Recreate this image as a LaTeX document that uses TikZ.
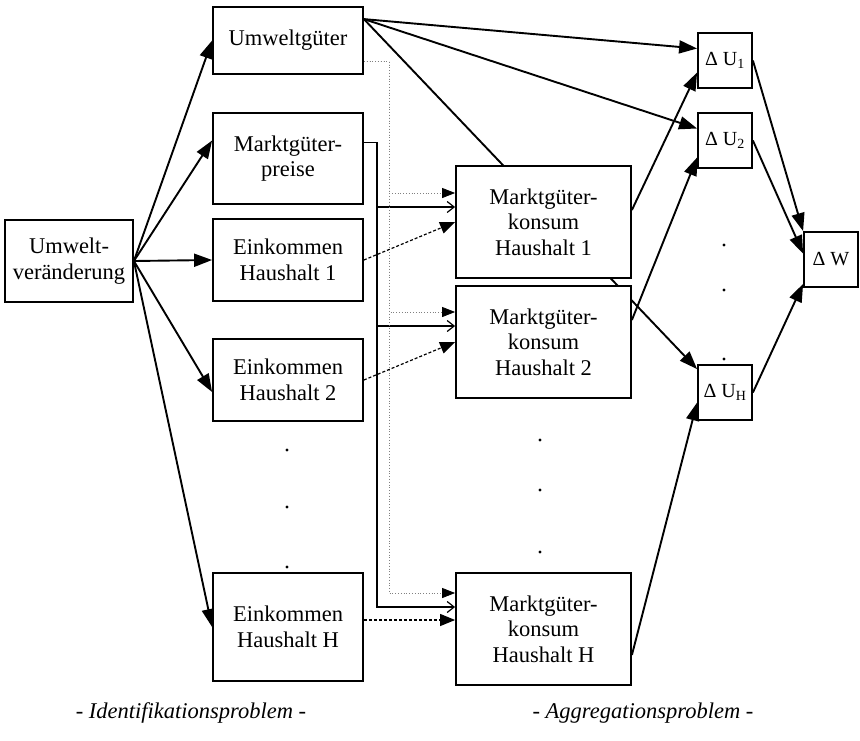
\documentclass[tikz,border=0pt]{standalone}
\usepackage{fontspec}
\setmainfont{Liberation Serif}
\usetikzlibrary{arrows.meta,backgrounds}

\begin{document}
\begin{tikzpicture}[x=1pt,y=-1pt,
  font=\fontsize{22.5}{25.5}\selectfont,
  >={Triangle[length=18pt,width=13pt]},
  box/.style={draw,line width=1.8pt,fill=white,align=center,inner sep=0pt},
  links/.style={box,minimum width=150pt},
  konsum/.style={box,minimum width=175pt,minimum height=112pt},
  nutzen/.style={box,minimum width=54pt,minimum height=55pt,font=\fontsize{20}{24}\selectfont},
  pfeil/.style={line width=1.9pt,->},
  preis/.style={line width=1.2pt,-{Straight Barb[length=7pt,width=11pt,line width=1.2pt]}},
  gut/.style={line width=0.8pt,gray,dotted,-{Triangle[length=13pt,width=10pt,color=black]}},
  eink/.style={line width=1.2pt,dash pattern=on 3pt off 2pt,-{Triangle[length=15pt,width=12pt]}}]
  \useasboundingbox (0,0) rectangle (860,740);
  \node[box,minimum width=128pt,minimum height=82pt] (umw) at (69,261) {Umwelt-\\veränderung};
  \node[links,minimum height=67pt] (ug) at (288,40.5) {Umweltgüter};
  \node[links,minimum height=91pt] (mp) at (288,158.5) {Marktgüter-\\preise};
  \node[links,minimum height=82pt] (e1) at (288,260) {Einkommen\\Haushalt 1};
  \node[links,minimum height=82pt] (e2) at (288,380) {Einkommen\\Haushalt 2};
  \node[links,minimum height=108pt] (eH) at (288,627) {Einkommen\\Haushalt H};
  \node[konsum] (k1) at (543.5,222) {Marktgüter-\\konsum\\Haushalt 1};
  \node[konsum] (k2) at (543.5,342) {Marktgüter-\\konsum\\Haushalt 2};
  \node[konsum] (kH) at (543.5,629) {Marktgüter-\\konsum\\Haushalt H};
  \node[nutzen] (u1) at (725,60.5) {Δ U\textsubscript{1}};
  \node[nutzen] (u2) at (725,140.5) {Δ U\textsubscript{2}};
  \node[nutzen] (uH) at (725,392.5) {Δ U\textsubscript{H}};
  \node[nutzen] (w) at (831,259.5) {Δ W};
  \node (idp) at (191,713) {\itshape - Identifikationsproblem -};
  \node (agp) at (643,713) {\itshape - Aggregationsproblem -};
  \foreach \x/\y in {287/450,287/507,287/567,540/440,540/490,540/552,724/245,724/290,724/359}
    \fill (\x,\y) circle (1.7pt);
  \begin{scope}[on background layer]
    \draw[pfeil] (umw.east) -- (ug.west);
    \draw[pfeil] (umw.east) -- ([yshift=18pt]mp.west);
    \draw[pfeil] (umw.east) -- (e1.west);
    \draw[pfeil] (umw.east) -- ([yshift=-12pt]e2.west);
    \draw[pfeil] (umw.east) -- (eH.west);
    \foreach \z in {u1,u2}
      \draw[pfeil] ([yshift=-13pt]ug.north east) -- ([yshift=12pt]\z.west);
    \draw[pfeil] ([yshift=-13pt]ug.north east) -- ([yshift=-5pt]uH.north west);
    \draw[pfeil] ([yshift=12pt]k1.east) -- ([yshift=-12pt]u1.west);
    \draw[pfeil] ([yshift=22pt]k2.east) -- ([yshift=-17pt]u2.west);
    \draw[pfeil] ([yshift=-26pt]kH.east) -- ([yshift=-10pt]uH.west);
    \draw[pfeil] (u1.east) -- (w.north west);
    \draw[pfeil] (u2.east) -- ([yshift=6pt]w.west);
    \draw[pfeil] (uH.east) -- ([yshift=4pt]w.south west);
    \foreach \z/\s in {k1/15,k2/16,kH/22}
      \draw[preis] ([yshift=16pt]mp.east) -- ++(13,0) |- ([yshift=\s pt]\z.west);
    \foreach \z/\s in {k1/29,k2/30,kH/36}
      \draw[gut] ([yshift=-21pt]ug.east) -- ++(25,0) |- ([yshift=\s pt]\z.west);
    \draw[eink] (e1.east) -- (k1.west);
    \draw[eink] (e2.east) -- (k2.west);
    \draw[eink] ([yshift=7pt]eH.east) -- ([yshift=9pt]kH.west);
  \end{scope}
\end{tikzpicture}
\end{document}
